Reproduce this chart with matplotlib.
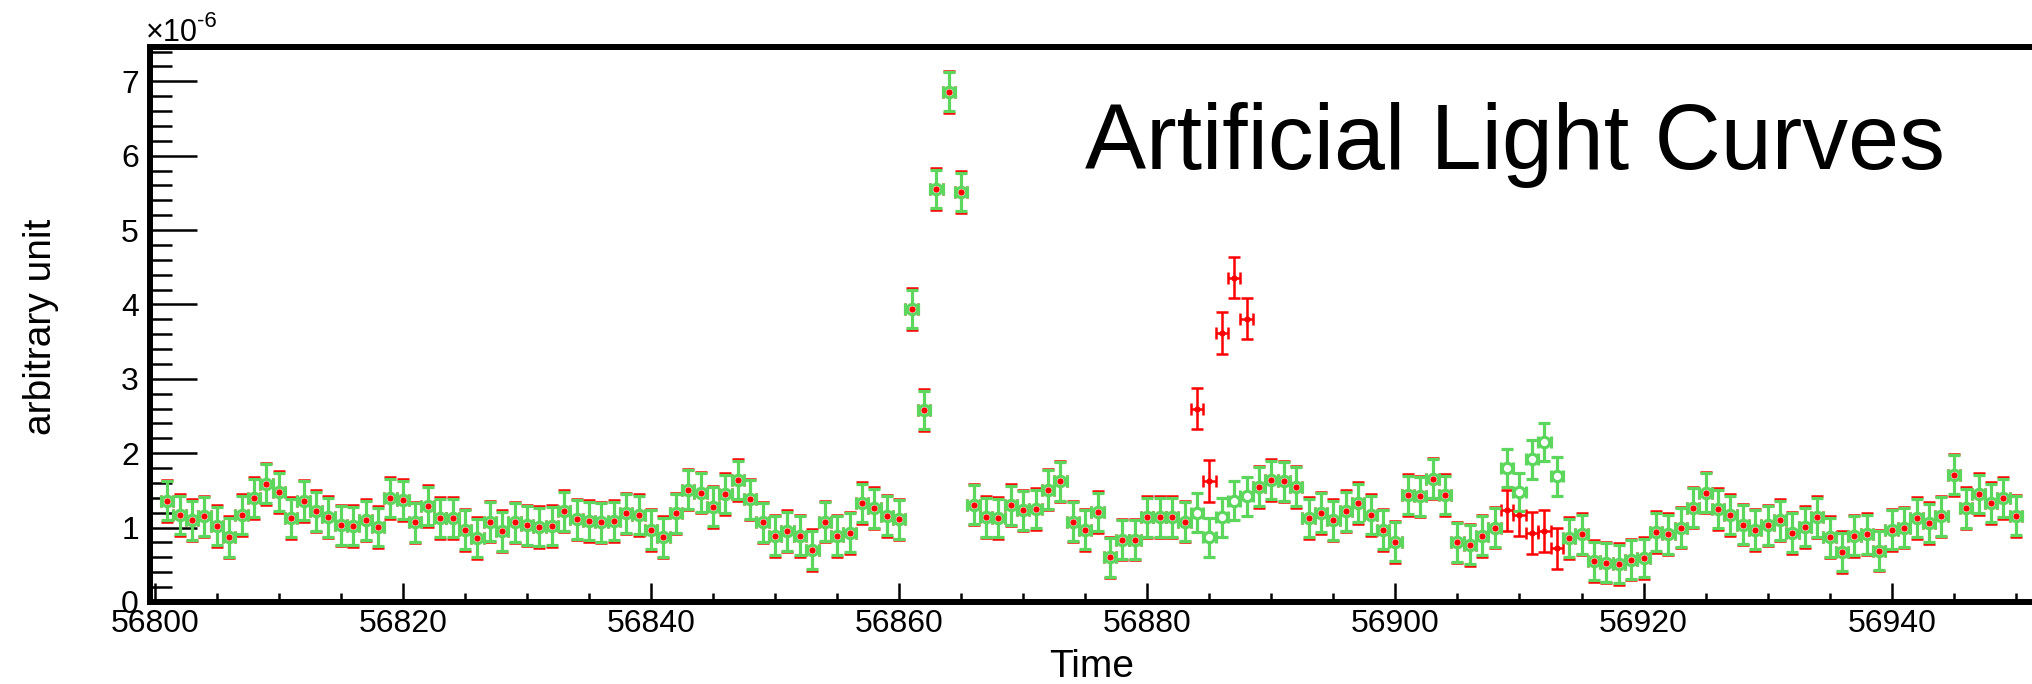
import numpy as np
import matplotlib.pyplot as plt
from matplotlib.ticker import MultipleLocator, FormatStrFormatter

plt.rcParams['font.family'] = 'Liberation Sans'

# daily bins, values in units of 1e-6
days = np.arange(56801, 56951)

red_flux = [
    1.36, 1.17, 1.10, 1.15, 1.02, 0.87, 1.17, 1.40, 1.59, 1.48,
    1.13, 1.36, 1.22, 1.14, 1.03, 1.02, 1.10, 1.01, 1.40, 1.37,
    1.07, 1.29, 1.13, 1.13, 0.97, 0.86, 1.08, 0.95, 1.07, 1.03,
    1.01, 1.02, 1.22, 1.11, 1.09, 1.07, 1.09, 1.19, 1.17, 0.97,
    0.87, 1.19, 1.51, 1.47, 1.28, 1.45, 1.64, 1.38, 1.07, 0.89,
    0.95, 0.89, 0.70, 1.08, 0.89, 0.93, 1.33, 1.26, 1.16, 1.11,
    3.94, 2.58, 5.55, 6.86, 5.51, 1.31, 1.14, 1.13, 1.30, 1.23,
    1.25, 1.51, 1.62, 1.08, 0.97, 1.21, 0.60, 0.84, 0.84, 1.14,
    1.14, 1.14, 1.08, 2.60, 1.63, 3.62, 4.36, 3.81, 1.55, 1.64,
    1.62, 1.55, 1.13, 1.20, 1.10, 1.22, 1.33, 1.17, 0.97, 0.81,
    1.44, 1.42, 1.66, 1.44, 0.80, 0.77, 0.89, 1.00, 1.23, 1.17,
    0.93, 0.95, 0.72, 0.86, 0.91, 0.55, 0.53, 0.51, 0.57, 0.59,
    0.94, 0.91, 1.00, 1.27, 1.47, 1.25, 1.17, 1.04, 0.97, 1.03,
    1.10, 0.93, 1.01, 1.14, 0.87, 0.67, 0.89, 0.91, 0.69, 0.97,
    1.00, 1.13, 1.06, 1.15, 1.71, 1.26, 1.45, 1.33, 1.40, 1.16,
]

green_flux = [
    1.36, 1.17, 1.10, 1.15, 1.02, 0.87, 1.17, 1.40, 1.59, 1.48,
    1.13, 1.36, 1.22, 1.14, 1.03, 1.02, 1.10, 1.01, 1.40, 1.37,
    1.07, 1.29, 1.13, 1.13, 0.97, 0.86, 1.08, 0.95, 1.07, 1.03,
    1.01, 1.02, 1.22, 1.11, 1.09, 1.07, 1.09, 1.19, 1.17, 0.97,
    0.87, 1.19, 1.51, 1.47, 1.28, 1.45, 1.64, 1.38, 1.07, 0.89,
    0.95, 0.89, 0.70, 1.08, 0.89, 0.93, 1.33, 1.26, 1.16, 1.11,
    3.94, 2.58, 5.55, 6.86, 5.51, 1.31, 1.14, 1.13, 1.30, 1.23,
    1.25, 1.51, 1.62, 1.08, 0.97, 1.21, 0.60, 0.84, 0.84, 1.14,
    1.14, 1.14, 1.08, 1.20, 0.87, 1.14, 1.36, 1.42, 1.55, 1.64,
    1.62, 1.55, 1.13, 1.20, 1.10, 1.22, 1.33, 1.17, 0.97, 0.81,
    1.44, 1.42, 1.66, 1.44, 0.80, 0.77, 0.89, 1.00, 1.80, 1.48,
    1.92, 2.15, 1.69, 0.86, 0.91, 0.55, 0.53, 0.51, 0.57, 0.59,
    0.94, 0.91, 1.00, 1.27, 1.47, 1.25, 1.17, 1.04, 0.97, 1.03,
    1.10, 0.93, 1.01, 1.14, 0.87, 0.67, 0.89, 0.91, 0.69, 0.97,
    1.00, 1.13, 1.06, 1.15, 1.71, 1.26, 1.45, 1.33, 1.40, 1.16,
]

red_err = 0.28
green_err = 0.26
bin_half = 0.5

red = '#ff0000'
green = '#5cd65c'

fig = plt.figure(figsize=(20.33, 6.84), dpi=100)
ax = fig.add_axes([0.0738, 0.1199, 0.9262, 0.8113])

ax.errorbar(days, red_flux, yerr=red_err, xerr=bin_half, fmt='none',
            ecolor=red, elinewidth=1.8, capsize=4.2, capthick=1.8, zorder=2)
ax.errorbar(days, green_flux, yerr=green_err, xerr=bin_half, fmt='o',
            color=green, mfc='white', mec=green, ms=7.5, mew=2.3,
            elinewidth=2.3, capsize=4.2, capthick=2.3, zorder=3)
ax.plot(days, red_flux, 'o', color=red, ms=4.5, mew=0, zorder=4)

ax.set_xlim(56799.62, 56951.39)
ax.set_ylim(0, 7.46)
ax.xaxis.set_major_locator(MultipleLocator(20))
ax.xaxis.set_minor_locator(MultipleLocator(5))
ax.yaxis.set_major_locator(MultipleLocator(1))
ax.yaxis.set_minor_locator(MultipleLocator(0.2))
ax.xaxis.set_major_formatter(FormatStrFormatter('%d'))
ax.yaxis.set_major_formatter(FormatStrFormatter('%d'))

ax.tick_params(axis='x', which='major', direction='in', length=13.7, width=1.8,
               labelsize=23, pad=5)
ax.tick_params(axis='x', which='minor', direction='in', length=6.5, width=1.8)
ax.tick_params(axis='y', which='major', direction='in', length=34, width=1.8,
               labelsize=23, pad=8)
ax.tick_params(axis='y', which='minor', direction='in', length=16, width=1.8)

for s in ['left', 'bottom', 'top']:
    ax.spines[s].set_linewidth(4.3)
ax.spines['right'].set_visible(False)

fig.text(146 / 2033, (684 - 41) / 684, '\u00d710', fontsize=22,
         ha='left', va='baseline')
fig.text(197 / 2033, (684 - 27) / 684, '-6', fontsize=16,
         ha='left', va='baseline')
fig.text(1085 / 2033, (684 - 169) / 684, 'Artificial Light Curves', fontsize=66,
         ha='left', va='baseline')
fig.text(1092 / 2033, (684 - 677) / 684, 'Time', fontsize=28,
         ha='center', va='baseline')
fig.text(41 / 2033, 0.522, 'arbitrary unit', fontsize=28, rotation=90,
         ha='center', va='center')

fig.savefig('out.png', dpi=100)
